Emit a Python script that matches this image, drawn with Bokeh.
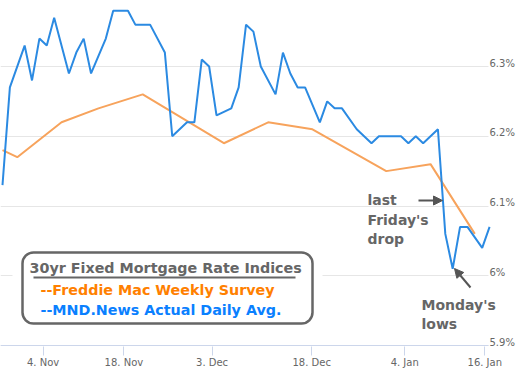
from bokeh.plotting import figure
from bokeh.models import (FixedTicker, CustomJSTickFormatter, BoxAnnotation, Label,
                          Arrow, NormalHead, Range1d)
from bokeh.embed import file_html
from bokeh.resources import INLINE

# ---- data (ordinal business-day positions) ----
blue_idx = [0, 1, 3, 4, 5, 6, 7, 9, 10, 11, 12, 14, 15, 17, 18, 20, 22, 23, 25, 26,
            27, 28, 29, 31, 32, 33, 34, 35, 37, 38, 39, 40, 41, 43, 44, 45, 46, 48,
            50, 51, 54, 55, 56, 57, 59, 60, 61, 62, 63, 65, 66]
blue_val = [6.13, 6.27, 6.33, 6.28, 6.34, 6.33, 6.37, 6.29, 6.32, 6.34, 6.29, 6.34, 6.38,
            6.38, 6.36, 6.36, 6.32, 6.20, 6.22, 6.22, 6.31, 6.30, 6.23, 6.24, 6.27, 6.36,
            6.35, 6.30, 6.26, 6.32, 6.29, 6.27, 6.27, 6.22, 6.25, 6.24, 6.24, 6.21, 6.19,
            6.20, 6.20, 6.19, 6.20, 6.19, 6.21, 6.06, 6.01, 6.07, 6.07, 6.04, 6.07]
orange_idx = [0, 2, 8, 13, 19, 30, 36, 42, 52, 58, 64]
orange_val = [6.18, 6.17, 6.22, 6.24, 6.26, 6.19, 6.22, 6.21, 6.15, 6.16, 6.06]
tick_pos = [5.5, 16.45, 28.4, 41.9, 54.5, 65.35]
tick_labels = ["4. Nov", "18. Nov", "3. Dec", "18. Dec", "4. Jan", "16. Jan"]
y_ticks = [5.9, 6.0, 6.1, 6.2, 6.3]

legend_title = "30yr Fixed Mortgage Rate Indices"
legend_orange = "--Freddie Mac Weekly Survey"
legend_blue = "--MND.News Actual Daily Avg."

# ---- layout geometry (pixels of the page) ----
PXU = 7.38          # px per ordinal unit
PXV = 697.5         # px per 1.0 (percent point)
FW, FH = 516, 346
PLOT_RIGHT = 488    # end of the plotting area proper
X0 = -2 / PXU
X1 = X0 + FW / PXU
Y1 = 6.3 + 66 / PXV
Y0 = Y1 - FH / PXV

def dx(px):
    return X0 + px / PXU

def dy(py):
    return Y1 - py / PXV

def py_of(v):
    return (Y1 - v) * PXV

p = figure(frame_width=FW, frame_height=FH, x_range=Range1d(X0, X1), y_range=Range1d(Y0, Y1),
           y_axis_location=None, output_backend="svg", toolbar_location=None,
           min_border=0, background_fill_color="white", border_fill_color="white")
p.outline_line_color = None

# grid
p.xgrid.visible = False
p.ygrid.ticker = FixedTicker(ticks=y_ticks)
p.ygrid.grid_line_color = "#e6e6e6"
p.ygrid.grid_line_width = 1
# keep gridlines out of the label strip on the right
p.add_layout(BoxAnnotation(left=dx(PLOT_RIGHT), right=X1, top=Y1, bottom=Y0,
                           fill_color="white", fill_alpha=1, line_color=None,
                           level="underlay"))

xa = p.xaxis[0]
xa.ticker = FixedTicker(ticks=tick_pos)
xa.formatter = CustomJSTickFormatter(args=dict(pos=tick_pos, labels=tick_labels), code="""
let b = 0;
for (let i = 0; i < pos.length; i++) { if (Math.abs(pos[i]-tick) < Math.abs(pos[b]-tick)) b = i; }
return labels[b];
""")
xa.axis_line_color = None
xa.major_tick_line_color = "#ccd6eb"
xa.major_tick_out = 9
xa.major_tick_in = 0
xa.minor_tick_line_color = None
xa.major_label_standoff = 1
xa.major_label_text_font = "DejaVu Sans"
xa.major_label_text_font_size = "10px"
xa.major_label_text_color = "#666666"

# x-axis line (ends where the plotting area ends)
p.segment(x0=[X0], y0=[y_ticks[0]], x1=[dx(PLOT_RIGHT)], y1=[y_ticks[0]],
          line_color="#ccd6eb", line_width=1)

# series
p.line(orange_idx, orange_val, line_color="#f7a35c", line_width=2)
p.line(blue_idx, blue_val, line_color="#2b8ae2", line_width=2)

# y labels (right side, just above each gridline)
for v in y_ticks:
    p.add_layout(Label(x=dx(489), y=dy(py_of(v) - 3.5), text=f"{v:g}%",
                       text_font="DejaVu Sans", text_font_size="10px",
                       text_color="#666666", text_baseline="middle", text_align="left"))

# legend box
p.add_layout(BoxAnnotation(left=dx(12), right=dx(322), top=dy(246), bottom=dy(330),
                           fill_color="white", fill_alpha=1, line_color=None))
p.add_layout(BoxAnnotation(left=dx(22), right=dx(312), top=dy(252), bottom=dy(323),
                           fill_color="white", fill_alpha=1, line_color="#666666",
                           line_alpha=1, line_width=2.5, border_radius=11))
p.add_layout(BoxAnnotation(left=dx(33), right=dx(295), top=dy(276), bottom=dy(278),
                           fill_color="#666666", fill_alpha=1, line_color=None))

def lab(txt, px, py, color, size):
    p.add_layout(Label(x=dx(px), y=dy(py), text=txt, text_font="DejaVu Sans",
                       text_font_style="bold", text_font_size=size, text_color=color,
                       text_baseline="middle", text_align="left"))

lab(legend_title, 29, 267, "#666666", "14.3px")
lab(legend_orange, 40, 289, "#ff8000", "14.3px")
lab(legend_blue, 40, 309, "#0a80ff", "14.3px")

lab("last", 367, 199, "#666666", "14px")
lab("Friday's", 367, 219, "#666666", "14px")
lab("drop", 367, 238, "#666666", "14px")
lab("Monday's", 421, 304, "#666666", "14px")
lab("lows", 421, 323, "#666666", "14px")

p.add_layout(Arrow(end=NormalHead(size=9, fill_color="#555555", line_color="#555555"),
                   x_start=dx(418), y_start=dy(200), x_end=dx(442), y_end=dy(200),
                   line_color="#555555", line_width=2))
p.add_layout(Arrow(end=NormalHead(size=9, fill_color="#555555", line_color="#555555"),
                   x_start=dx(470), y_start=dy(287), x_end=dx(454), y_end=dy(268),
                   line_color="#555555", line_width=2))

open("out.html", "w").write(file_html(p, INLINE, "chart"))
